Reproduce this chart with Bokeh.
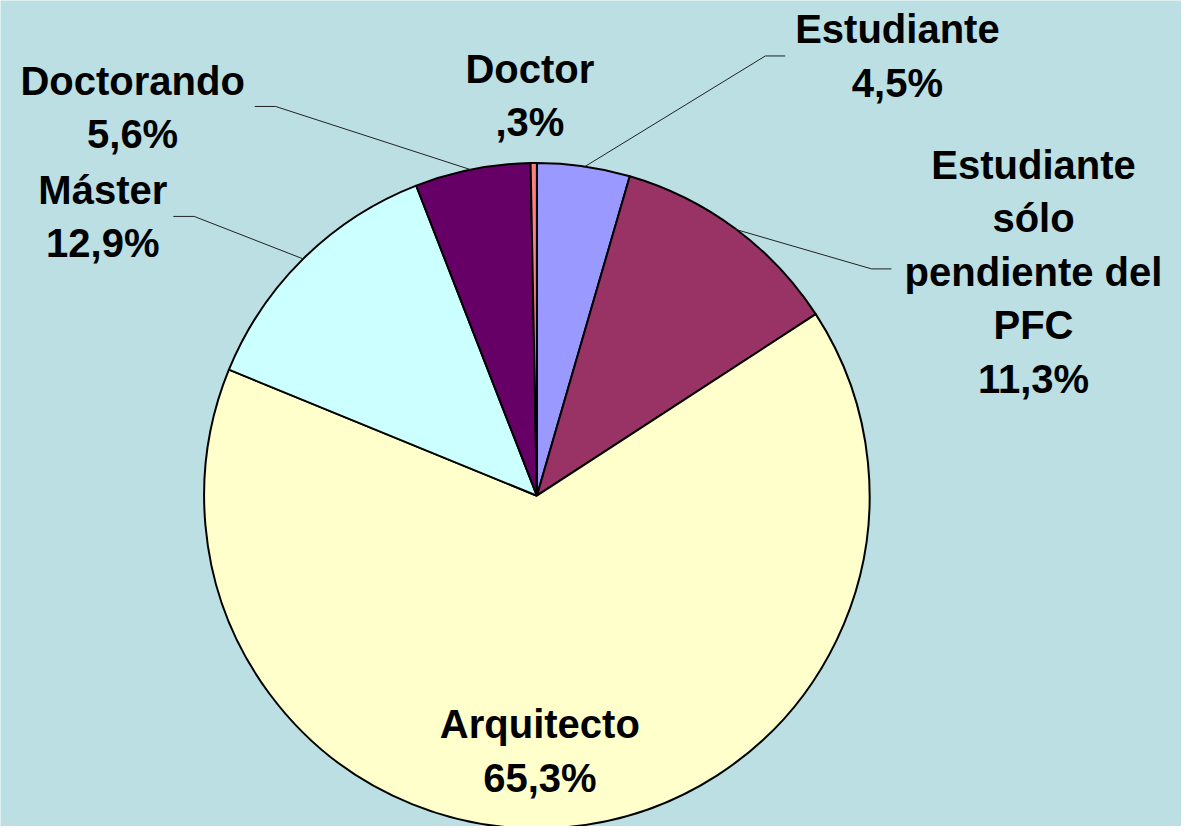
import math
from bokeh.plotting import figure
from bokeh.models import Range1d, ColumnDataSource
from bokeh.core.properties import value
from bokeh.embed import file_html
from bokeh.resources import INLINE

# ---- data ----
categories = ["Estudiante", "Estudiante sólo pendiente del PFC", "Arquitecto",
              "Máster", "Doctorando", "Doctor"]
percentages = [4.5, 11.3, 65.3, 12.9, 5.6, 0.3]
colors = ["#9999FF", "#993366", "#FFFFCC", "#CCFFFF", "#660066", "#FF8080"]

# ---- layout (x right, y = -pixel row of the 1189x834 picture) ----
W, H = 1181, 826
CX, CY, R = 540, -500, 335
BG = "#BBDFE3"
FONT = value("Liberation Sans")

label_lines = {
    "Estudiante": ["Estudiante"],
    "Estudiante sólo pendiente del PFC": ["Estudiante", "sólo", "pendiente del", "PFC"],
    "Arquitecto": ["Arquitecto"],
    "Máster": ["Máster"],
    "Doctorando": ["Doctorando"],
    "Doctor": ["Doctor"],
}
label_pos = {  # x center, first-line y (pixel row)
    "Estudiante": (903, 29),
    "Estudiante sólo pendiente del PFC": (1040, 166),
    "Arquitecto": (543, 731),
    "Máster": (103, 191),
    "Doctorando": (133, 81),
    "Doctor": (533, 69),
}
LINE_STEP = 54
leader_pts = {  # elbow point, end point near label (pixel coords)
    "Estudiante": [(770, 56), (790, 56)],
    "Estudiante sólo pendiente del PFC": [(877, 271), (897, 271)],
    "Máster": [(195, 218), (174, 218)],
    "Doctorando": [(277, 107), (256, 107)],
}


def fmt(v):
    s = f"{v:.1f}".replace(".", ",")
    if s.startswith("0"):
        s = s[1:]
    return s + "%"


total = sum(percentages)
starts, ends, mids = [], [], []
a = math.pi / 2
for v in percentages:
    da = 2 * math.pi * v / total
    starts.append(a - da)
    ends.append(a)
    mids.append(a - da / 2)
    a -= da

p = figure(width=W, height=H, output_backend="svg", toolbar_location=None,
           x_range=Range1d(0, 1189), y_range=Range1d(-834, 0),
           min_border=0, background_fill_color=BG, border_fill_color=BG,
           outline_line_color=None)
p.axis.visible = False
p.grid.visible = False

src = ColumnDataSource(dict(start=starts, end=ends, color=colors, cat=categories))
p.wedge(x=CX, y=CY, radius=R, start_angle="start", end_angle="end",
        fill_color="color", line_color="black", line_width=2, source=src)

# leader lines
for cat, pts in leader_pts.items():
    i = categories.index(cat)
    px = CX + R * math.cos(mids[i])
    py = CY + R * math.sin(mids[i])
    xs = [px] + [q[0] for q in pts]
    ys = [py] + [-q[1] for q in pts]
    p.line(xs, ys, line_color="#222222", line_width=1)

# labels
tx, ty, tt = [], [], []
for cat, v in zip(categories, percentages):
    x0, y0 = label_pos[cat]
    lines = label_lines[cat] + [fmt(v)]
    for k, ln in enumerate(lines):
        tx.append(x0)
        ty.append(-(y0 + k * LINE_STEP))
        tt.append(ln)
p.text(x=tx, y=ty, text=tt, text_font=FONT, text_font_style="bold",
       text_font_size="40px", text_align="center", text_baseline="middle",
       text_color="black")

open("out.html", "w").write(file_html(p, INLINE))
